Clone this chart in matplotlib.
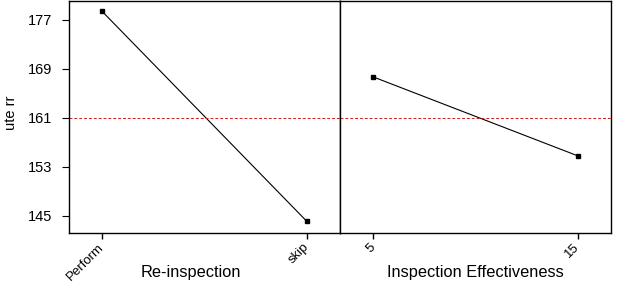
import matplotlib
matplotlib.use("Agg")
import matplotlib.pyplot as plt
import matplotlib.transforms as mtransforms

plt.rcParams['font.family'] = ['Liberation Sans', 'DejaVu Sans']

reinsp_labels = ["Perform", "skip"]
reinsp_means = [178.4, 144.1]
eff_labels = ["5", "15"]
eff_means = [167.7, 154.8]
grand_mean = 161.0
yticks = [145, 153, 161, 169, 177]

fig = plt.figure(figsize=(6.22, 2.83), dpi=100)
W, H = 622, 283
left, right, divider, top, bottom = 69, 611, 340, 1, 233
ax1 = fig.add_axes([left / W, (H - bottom) / H, (divider - left) / W, (bottom - top) / H])
ax2 = fig.add_axes([divider / W, (H - bottom) / H, (right - divider) / W, (bottom - top) / H], sharey=ax1)

for ax, labels, vals, xlabel, dx in [(ax1, reinsp_labels, reinsp_means, "Re-inspection", 7),
                                     (ax2, eff_labels, eff_means, "Inspection Effectiveness", 3)]:
    xs = list(range(len(labels)))
    ax.plot(xs, vals, color='black', lw=0.8, marker='s', ms=2.5)
    ax.axhline(grand_mean, color='#cc2222', ls=(0, (3, 2)), lw=0.7)
    ax.set_xlim(-0.162, 1.162)
    ax.set_xticks(xs)
    ax.set_xticklabels(labels, rotation=45, ha='right', va='center', rotation_mode='anchor', fontsize=9.5)
    offset = mtransforms.ScaledTranslation(dx / 100, 0, fig.dpi_scale_trans)
    for lab in ax.get_xticklabels():
        lab.set_transform(lab.get_transform() + offset)
    ax.set_xlabel(xlabel, fontsize=11.8)
    for s in ax.spines.values():
        s.set_linewidth(1.0)
    ax.tick_params(axis='x', length=4, width=1, direction='out', pad=5)

ax1.set_ylim(142.2, 180.1)
ax1.set_yticks(yticks)
ax1.tick_params(axis='y', length=5, width=0.8, labelsize=10.5, pad=7)
ax1.set_ylabel("ute rr", fontsize=10.5)
ax1.yaxis.set_label_coords(-0.19, 0.52)
ax1.xaxis.set_label_coords(0.45, -0.14)
ax2.xaxis.set_label_coords(0.5, -0.14)
ax2.tick_params(axis='y', left=False, labelleft=False)

fig.savefig("out.png", dpi=100)
